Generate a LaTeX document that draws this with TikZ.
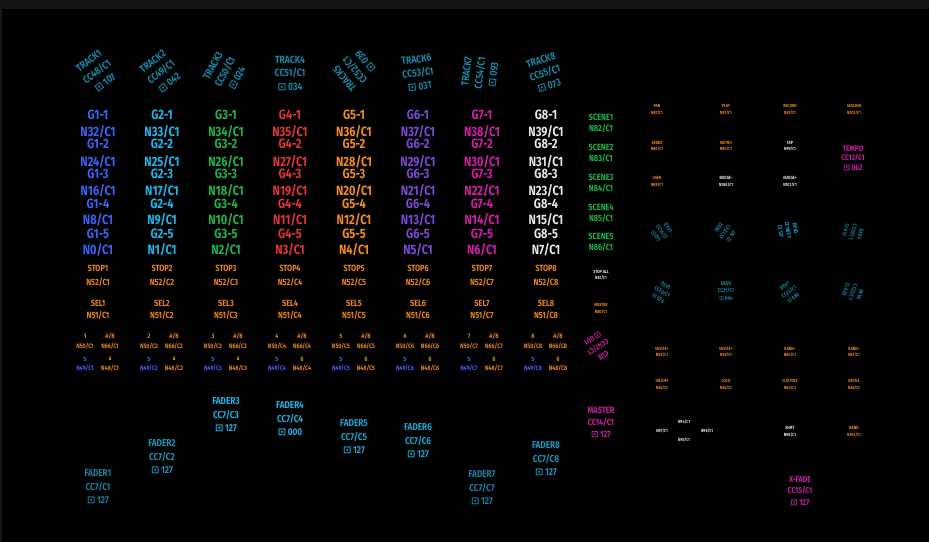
\documentclass[tikz,border=0pt]{standalone}
\usepackage{fontspec}
\setmainfont{Fira Sans}[FakeStretch=0.82]
\newfontfamily\symf{DejaVu Sans}
\newcommand\kb{{\symf ⊡}}
\definecolor{gblue}{HTML}{3D63F5}
\definecolor{gcyan}{HTML}{1FB5EA}
\definecolor{ggreen}{HTML}{1FB24A}
\definecolor{gred}{HTML}{E03535}
\definecolor{gorange}{HTML}{F28C1E}
\definecolor{gpurple}{HTML}{7C48D6}
\definecolor{gmag}{HTML}{D01FA6}
\definecolor{gwhite}{HTML}{E6E6E6}
\definecolor{teal1}{HTML}{1A86A3}
\definecolor{teal2}{HTML}{1D7F9C}
\definecolor{teal3}{HTML}{1D93B8}
\definecolor{teal4}{HTML}{22B0E0}
\definecolor{teal5}{HTML}{1FA2CC}
\definecolor{sorange}{HTML}{E8861A}
\definecolor{smag}{HTML}{C61FA0}
\definecolor{topbar}{HTML}{161616}
\tikzset{
  lab/.style={inner sep=0pt, align=center},
  big/.style={lab, font=\bfseries\fontsize{13.5}{13.5}\selectfont},
  trk/.style={lab, font=\bfseries\fontsize{10.5}{13.5}\selectfont, text=teal1},
  mid/.style={lab, font=\bfseries\fontsize{9}{11}\selectfont},
  sml/.style={lab, font=\bfseries\fontsize{6.5}{8}\selectfont},
  fad/.style={lab, font=\bfseries\fontsize{10}{13.5}\selectfont},
  tny/.style={lab, font=\bfseries\fontsize{4.5}{6.5}\selectfont},
  dev/.style={lab, font=\bfseries\fontsize{5.5}{7.5}\selectfont, text=teal1},
  mst/.style={lab, font=\bfseries\fontsize{9}{12}\selectfont, text=smag},
}
\begin{document}
\begin{tikzpicture}[x=1pt,y=-1pt]
\fill[black] (0,0) rectangle (929,542);
\fill[topbar] (0,0) rectangle (929,8.5);
\fill[topbar] (0,0) rectangle (1.5,542);
\useasboundingbox (0,0) rectangle (929,542);

% track knobs
\foreach \i/\x/\y/\r/\v in {1/97/72/37/107, 2/161/72/38/042, 3/225/72/62/024, 4/290/73/0/034,
  5/355/70/130/039, 6/418/73/7/031, 7/480/73/83/093, 8/545/73/18/073}{
  \pgfmathtruncatemacro\cc{47+\i}
  \node[trk, rotate=\r] (trk\i) at (\x,\y) {TRACK\i\\CC\cc/C1\\\kb\,\v};
}

% clip grid
\foreach \c/\col in {1/gblue,2/gcyan,3/ggreen,4/gred,5/gorange,6/gpurple,7/gmag,8/gwhite}{
  \pgfmathsetmacro\cx{98+64*(\c-1)}
  \foreach \r/\gy/\ny/\n in {1/115/132/32, 2/144/162/24, 3/174/191/16, 4/204/220/8, 5/234/250/0}{
    \pgfmathtruncatemacro\nn{\n+\c-1}
    \node[big, text=\col] (g\c r\r) at (\cx,\gy) {G\c-\r};
    \node[big, text=\col] (n\c r\r) at (\cx,\ny) {N\nn/C1};
  }
  % stop / select
  \node[mid, text=sorange] (stop\c) at (\cx,268) {STOP\c};
  \node[mid, text=sorange] (stopn\c) at (\cx,282) {N52/C\c};
  \node[mid, text=sorange] (sel\c) at (\cx,303) {SEL\c};
  \node[mid, text=sorange] (seln\c) at (\cx,315) {N51/C\c};
  % activator, A/B, solo, arm
  \node[sml, text=sorange] (act\c) at (\cx-13,336) {\c};
  \node[sml, text=sorange] (ab\c) at (\cx+12,336) {A/B};
  \node[sml, text=sorange] (actn\c) at (\cx-13,346) {N50/C\c};
  \node[sml, text=sorange] (abn\c) at (\cx+12,346) {N66/C\c};
  \node[sml, text=gblue] (solo\c) at (\cx-13,359) {S};
  \node[sml, text=gblue] (solon\c) at (\cx-13,368) {N49/C\c};
  \node[sml, text=sorange] (armn\c) at (\cx+12,368) {N48/C\c};
}
\foreach \c in {1,2,3}{\pgfmathsetmacro\cx{98+64*(\c-1)}
  \node[sml, text=sorange] (arm\c) at (\cx+12,359) {a};}
\foreach \c in {4,5,6,7,8}{\pgfmathsetmacro\cx{98+64*(\c-1)}
  \node[sml, text=sorange] (arm\c) at (\cx+12,359) {6};}

% faders
\foreach \c/\y/\col/\v in {1/487/teal2/127, 2/457/teal3/127, 3/415/teal4/127, 4/419/teal4/000,
  5/437/teal5/127, 6/441/teal5/127, 7/488/teal2/127, 8/459/teal3/127}{
  \pgfmathsetmacro\cx{98+64*(\c-1)}
  \node[fad, text=\col] (fader\c) at (\cx,\y) {FADER\c\\CC7/C\c\\\kb\,\v};
}

% scene launch column
\foreach \s/\y in {1/117,2/147,3/177,4/207,5/236}{
  \pgfmathtruncatemacro\nn{81+\s}
  \node[mid, text=ggreen] (scene\s) at (601,\y) {SCENE\s};
  \node[mid, text=ggreen] (scenen\s) at (601,\y+11.5) {N\nn/C1};
}
\node[tny, text=gwhite] (stopall) at (601,275) {STOP ALL\\N81/C1};
\node[tny, text=sorange] (mastern) at (601,308.5) {MASTER\\N80/C1};
\node[mst, font=\bfseries\fontsize{8}{10}\selectfont, rotate=212] (cue) at (598,347) {CUE\\CC47/C1\\\kb\,001};
\node[mst] (master) at (601,422) {MASTER\\CC14/C1\\\kb\,127};

% transport / mode buttons
\node[tny, text=sorange] (pan) at (657,109.5) {PAN\\N87/C1};
\node[tny, text=sorange] (play) at (726,109.5) {PLAY\\N91/C1};
\node[tny, text=sorange] (record) at (790,109.5) {RECORD\\N93/C1};
\node[tny, text=sorange] (session) at (854,109.5) {SESSION\\N102/C1};
\node[tny, text=sorange] (sends) at (657,146) {SENDS\\N88/C1};
\node[tny, text=sorange] (metro) at (726,146) {METRO\\N90/C1};
\node[tny, text=gwhite] (tap) at (790,146) {TAP\\N99/C1};
\node[mst, font=\bfseries\fontsize{8}{9.5}\selectfont] (tempo) at (853,158) {TEMPO\\CC13/C1\\\kb\,062};
\node[tny, text=sorange] (user) at (657,181.5) {USER\\N89/C1};
\node[tny, text=gwhite] (nudgem) at (726,181.5) {NUDGE-\\N100/C1};
\node[tny, text=gwhite] (nudgep) at (790,181.5) {NUDGE+\\N101/C1};

% device knobs
\foreach \i/\x/\y/\r/\v/\col in {1/662/232/-55/077/teal1, 2/725/232/55/107/teal1, 3/788/230/-80/127/teal4, 4/853/232/-105/012/teal2,
  5/662/292/-30/036/teal1, 6/726/291/0/094/teal1, 7/789/292/35/080/teal1, 8/853/292/-110/020/teal1}{
  \pgfmathtruncatemacro\cc{15+\i}
  \node[dev, text=\col, rotate=\r] (dev\i) at (\x,\y) {DEV\i\\CC\cc/C1\\\kb\,\v};
}

% device buttons
\node[tny, text=sorange] (devl) at (662,352) {DEVICE<\\N58/C1};
\node[tny, text=sorange] (devr) at (726,352) {DEVICE>\\N59/C1};
\node[tny, text=sorange] (bankl) at (790,352) {BANK<\\N60/C1};
\node[tny, text=sorange] (bankr) at (854,352) {BANK>\\N61/C1};
\node[tny, text=sorange] (onoff) at (662,384.5) {ON/OFF\\N62/C1};
\node[tny, text=sorange] (lock) at (726,384.5) {LOCK\\N63/C1};
\node[tny, text=sorange] (clipdev) at (790,384.5) {CLIP/DEV\\N64/C1};
\node[tny, text=sorange] (detail) at (854,384.5) {DETAIL\\N65/C1};

% bank select arrows
\node[tny, text=gwhite] (up) at (684,422) {N94/C1};
\node[tny, text=gwhite] (left) at (662,431) {N97/C1};
\node[tny, text=gwhite] (right) at (707,431) {N96/C1};
\node[tny, text=gwhite] (down) at (684,440) {N95/C1};
\node[tny, text=gwhite] (shift) at (790,431.5) {SHIFT\\N98/C1};
\node[tny, text=sorange] (bank) at (854,431.5) {BANK\\N103/C1};

\node[mst, font=\bfseries\fontsize{8.5}{11.5}\selectfont] (xfade) at (800,491) {X-FADE\\CC15/C1\\\kb\,127};
\end{tikzpicture}
\end{document}
